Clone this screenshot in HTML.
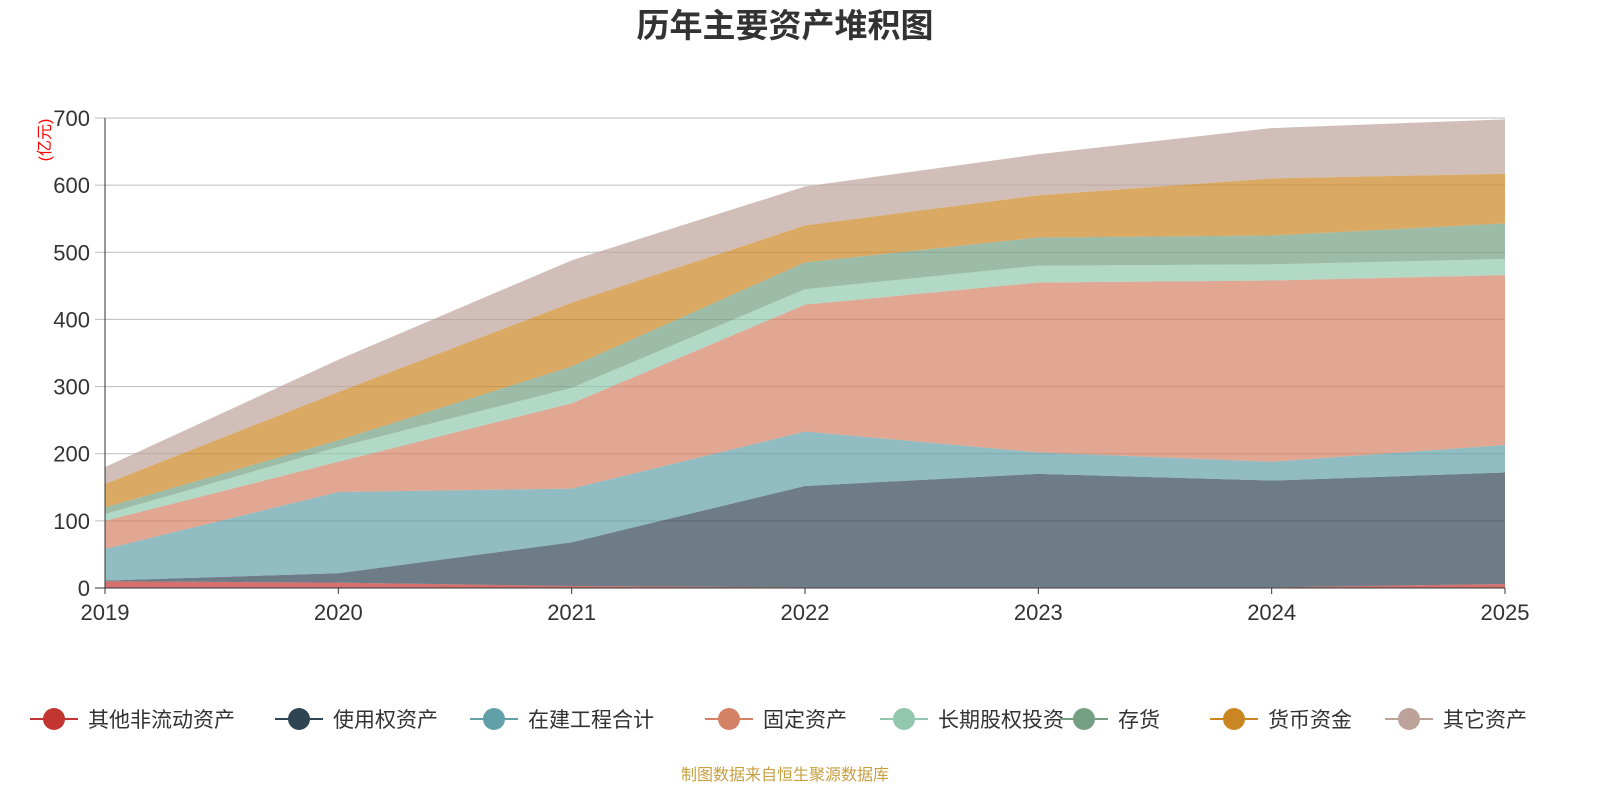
<!DOCTYPE html>
<html><head><meta charset="utf-8"><style>
body{margin:0;background:#fff;font-family:"Liberation Sans","Noto Sans CJK SC",sans-serif;}
</style></head><body>
<svg id="c" width="1600" height="800" xmlns="http://www.w3.org/2000/svg" font-family="Liberation Sans, Noto Sans CJK SC, sans-serif"></svg>
<script>
const years=["2019","2020","2021","2022","2023","2024","2025"];
const names=["其他非流动资产","使用权资产","在建工程合计","固定资产","长期股权投资","存货","货币资金","其它资产"];
const colors=["#c23531","#2f4554","#61a0a8","#d48265","#91c7ae","#749f83","#ca8622","#bda29a"];
const sOther=[10,8,3,1,1,1,6];
const sUse=[1,14,65,151,169,159,166];
const sCon=[47,121,80,81,32,28,41];
const sFix=[42,45,127,189,253,270,253];
const sLte=[10,22,23,23,25,24,24];
const sInv=[10,10,32,40,42,43,53];
const sCash=[35,72,95,55,63,85,74];
const sRest=[25,48,63,58,61,75,81];
const series=[sOther,sUse,sCon,sFix,sLte,sInv,sCash,sRest];
const yTicks=[0,100,200,300,400,500,600,700];
const svg=document.getElementById('c');const NS="http://www.w3.org/2000/svg";
const X=i=>105+i*(1400/(years.length-1));const Y=v=>588-v*(470/700);
function mk(t,a,txt){const e=document.createElementNS(NS,t);for(const k in a)e.setAttribute(k,a[k]);if(txt!=null)e.textContent=txt;svg.appendChild(e);return e;}
let t=mk('text',{x:785,y:37,'text-anchor':'middle','font-size':33,'font-weight':'bold',fill:'#333'},'历年主要资产堆积图');


yTicks.forEach(v=>{let l=mk('line',{x1:95,x2:1505,y1:Y(v),y2:Y(v),stroke:v?'#bbb':'#333','stroke-width':1});


let tx=mk('text',{x:90,y:Y(v)+8,'text-anchor':'end','font-size':22,fill:'#333'},v);

});
t=mk('text',{x:50,y:140,'font-size':16,fill:'red','text-anchor':'middle',transform:'rotate(-90 50 140)'},'(亿元)');


let cum=years.map(()=>0);
series.forEach((s,k)=>{const lo=cum.slice();cum=cum.map((c,i)=>c+s[i]);
let d=cum.map((v,i)=>(i?'L':'M')+X(i)+','+Y(v)).join('');
for(let i=years.length-1;i>=0;i--)d+='L'+X(i)+','+Y(lo[i]);
let p=mk('path',{d:d+'Z',fill:colors[k],'fill-opacity':0.7,stroke:'none'});

});
let ax=mk('line',{x1:105,x2:105,y1:118,y2:588,stroke:'#333'});


ax=mk('line',{x1:105,x2:1505,y1:588,y2:588,stroke:'#333'});


years.forEach((y,i)=>{let l=mk('line',{x1:X(i),x2:X(i),y1:588,y2:594,stroke:'#333'});


let tx=mk('text',{x:X(i),y:620,'text-anchor':'middle','font-size':22,fill:'#333'},y);

});
const lx=[30,275,470,705,880,1060,1210,1385];
names.forEach((n,k)=>{const x=lx[k];
let g=document.createElementNS(NS,'g');svg.appendChild(g);


g.innerHTML=`<line x1="${x}" x2="${x+48}" y1="719" y2="719" stroke="${colors[k]}" stroke-width="2"/><circle cx="${x+24}" cy="719" r="11" fill="${colors[k]}"/><text x="${x+58}" y="727" font-size="21" fill="#333">${n}</text>`;});
t=mk('text',{x:785,y:780,'text-anchor':'middle','font-size':16,fill:'#c8a040'},'制图数据来自恒生聚源数据库');


</script></body></html>
